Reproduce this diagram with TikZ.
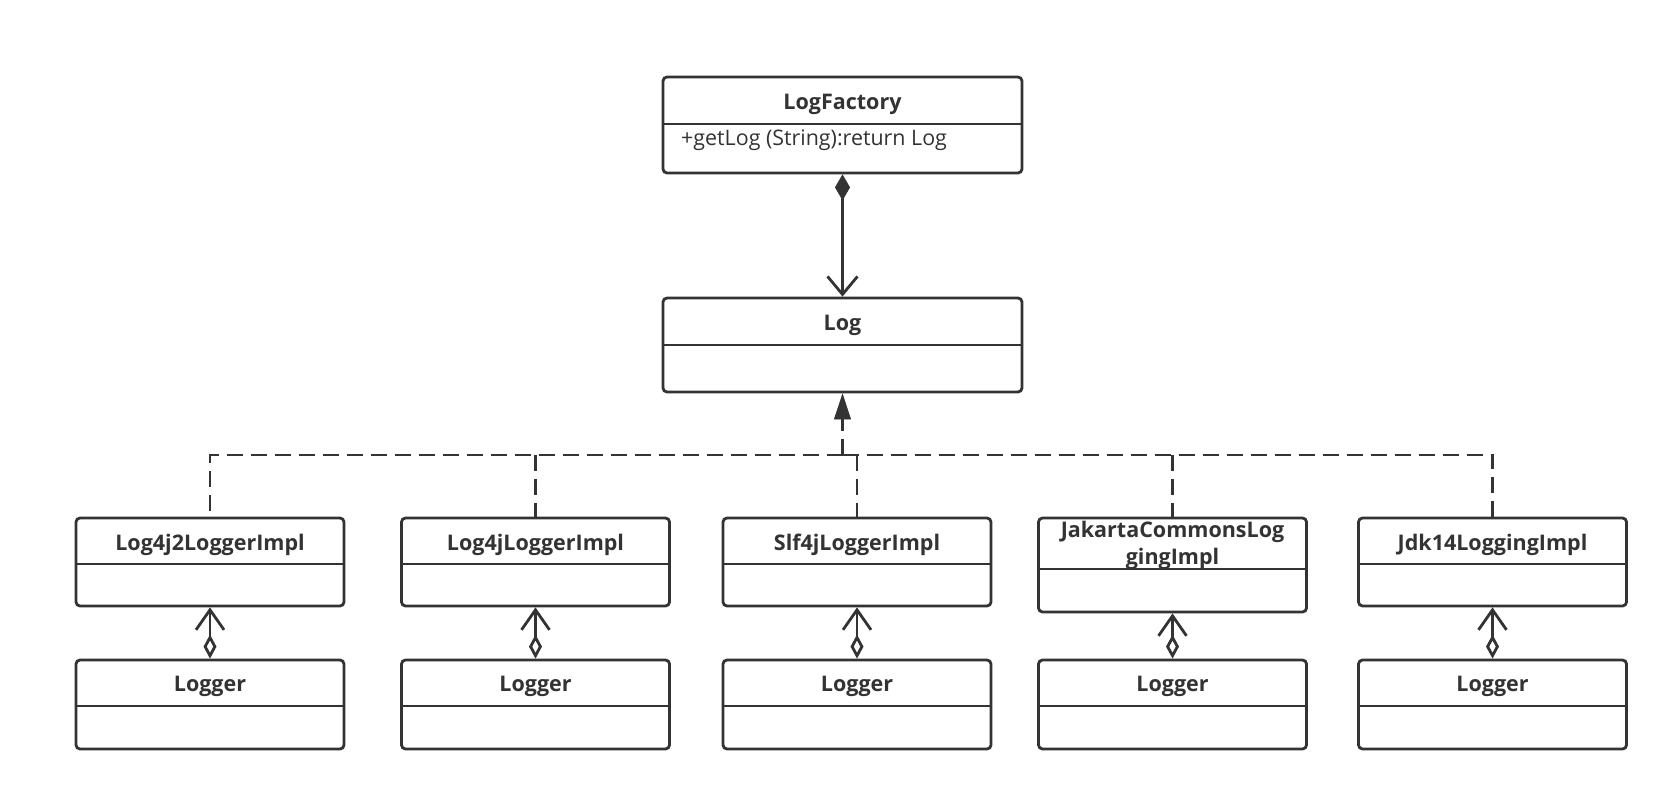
\documentclass[tikz,border=0pt]{standalone}
\usepackage{fontspec}
\setmainfont{Open Sans}
\usetikzlibrary{arrows.meta}
\definecolor{lc}{HTML}{333333}
\begin{document}
\begin{tikzpicture}[x=1pt,y=-1pt,
  box/.style={draw=lc, line width=2.8pt, rounded corners=4pt, inner sep=0pt, fill=white, minimum width=268pt},
  divl/.style={draw=lc, line width=2.8pt},
  ttl/.style={font=\fontsize{21.5}{27}\selectfont\bfseries, text=lc, inner sep=0pt, align=center},
  mth/.style={font=\fontsize{21.4}{26}\selectfont, text=lc, inner sep=0pt, anchor=west},
  comp/.style={draw=lc, line width=2.8pt, {Diamond[length=26pt,width=15pt,line width=0.5pt]}-{Straight Barb[length=18pt,width=30pt]}},
  agg/.style={draw=lc, line width=2.8pt, {Diamond[open,fill=white,length=24pt,width=13pt]}-{Straight Barb[length=20pt,width=28pt]}},
  real/.style={draw=lc, line width=2.8pt, dash pattern=on 16pt off 8pt, -{Triangle[length=26pt,width=17pt,line width=0.5pt]}},
  dsh/.style={draw=lc, line width=2.8pt, dash pattern=on 16pt off 8pt}
]
\useasboundingbox (0,0) rectangle (1677,797);

% LogFactory
\node[box, minimum width=359pt, minimum height=96pt] (lf) at (842.5,125) {};
\draw[divl] (lf.west |- 0,124) -- (lf.east |- 0,124);
\node[ttl] (lft) at (842.5,104) {LogFactory};
\node[mth] (lfm) at (681,140) {+getLog (String):return Log};

% Log
\node[box, minimum width=359pt, minimum height=94pt] (log) at (842.5,345) {};
\draw[divl] (log.west |- 0,345) -- (log.east |- 0,345);
\node[ttl] (logt) at (842.5,325.5) {Log};

% implementations
\node[box, minimum height=88pt] (c1) at (210,562) {};
\node[box, minimum height=88pt] (c2) at (535.5,562) {};
\node[box, minimum height=88pt] (c3) at (857,562) {};
\node[box, minimum height=94pt] (c4) at (1172.5,565) {};
\node[box, minimum height=88pt] (c5) at (1492.5,562) {};
\foreach \n in {c1,c2,c3,c5}{\draw[divl] (\n.west |- 0,564) -- (\n.east |- 0,564);}
\draw[divl] (c4.west |- 0,569) -- (c4.east |- 0,569);
\node[ttl] (c1t) at (210,544.5) {Log4j2LoggerImpl};
\node[ttl] (c2t) at (535.5,544.5) {Log4jLoggerImpl};
\node[ttl] (c3t) at (857,544.5) {Slf4jLoggerImpl};
\node[ttl] (c4t) at (1172.5,545) {JakartaCommonsLog\\gingImpl};
\node[ttl] (c5t) at (1492.5,544.5) {Jdk14LoggingImpl};

% loggers
\foreach \n/\x in {g1/210,g2/535.5,g3/857,g4/1172.5,g5/1492.5}{
  \node[box, minimum height=89pt] (\n) at (\x,704.5) {};
  \draw[divl] (\n.west |- 0,706) -- (\n.east |- 0,706);
  \node[ttl] (\n t) at (\x,686.5) {Logger};
}

% connectors
\draw[comp] (lf.south) -- (log.north);
\coordinate (hub) at (842.5,455);
\draw[real] (hub) -- (log.south);
\draw[dsh] (hub) -| (c1.north);
\draw[dsh] (hub) -| (c5.north);
\draw[dsh] (c2.north |- hub) -- (c2.north);
\draw[dsh] (c3.north |- hub) -- (c3.north);
\draw[dsh] (c4.north |- hub) -- (c4.north);
\foreach \i in {1,...,5}{\draw[agg] (g\i.north) -- (c\i.south);}
\end{tikzpicture}
\end{document}
